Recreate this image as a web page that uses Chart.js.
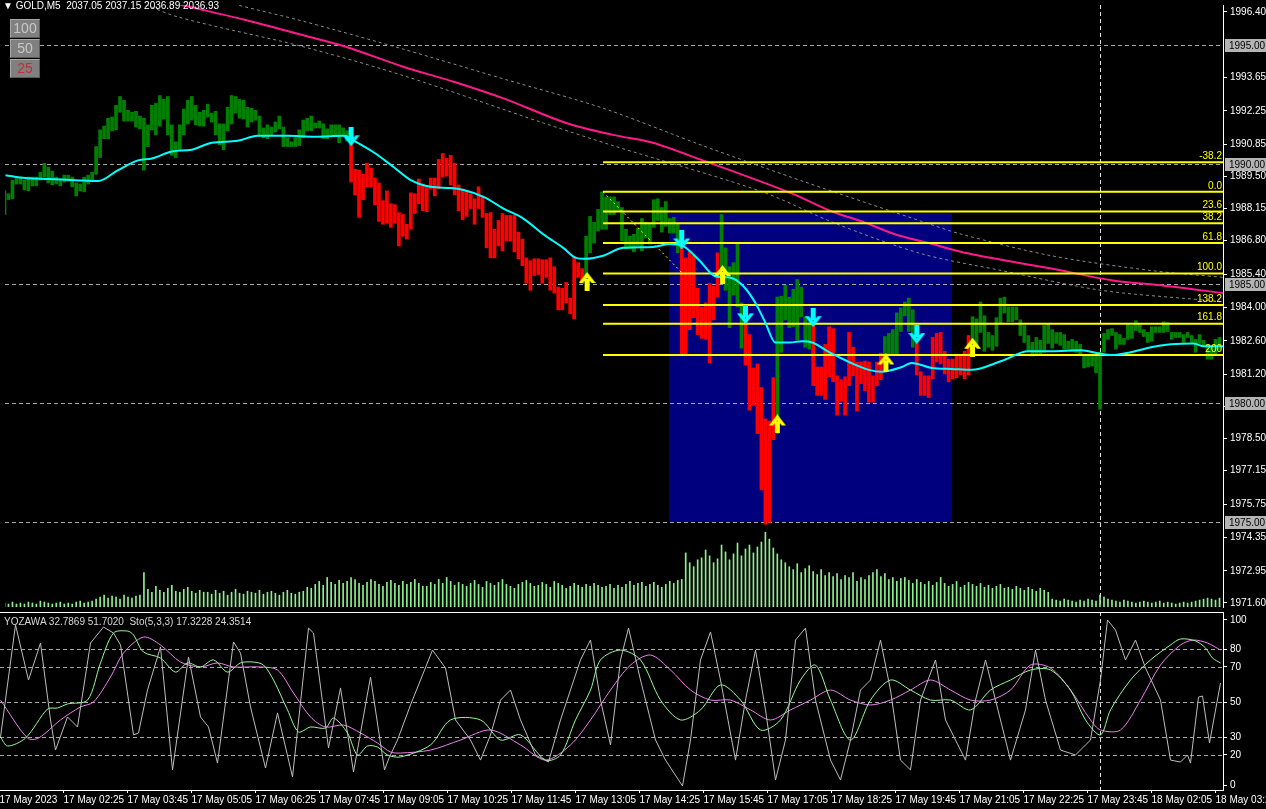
<!DOCTYPE html>
<html>
<head>
<meta charset="utf-8">
<script src="https://cdn.jsdelivr.net/npm/chart.js@4.4.1/dist/chart.umd.min.js"></script>
<style>
  html, body { margin: 0; padding: 0; background: #000; }
  #wrap { position: relative; width: 1266px; height: 809px; overflow: hidden; background: #000; }
  canvas { position: absolute; left: 0; }
  #main { top: 0; }
  #sub { top: 612px; }
  .title { position: absolute; left: 3px; top: 0; color: #fff; font: 10px "Liberation Sans", Arial, sans-serif; white-space: pre; }
  .btn { position: absolute; left: 10px; width: 28px; height: 17px; background: #808080; border: 1px solid #a8a8a8; border-right-color: #5a5a5a; border-bottom-color: #5a5a5a; color: #c8c8c8; font: 14px "Liberation Sans", Arial, sans-serif; text-align: center; line-height: 17px; }
  .sublabel { position: absolute; left: 4px; top: 616px; color: #d8d8d8; font: 10px "Liberation Sans", Arial, sans-serif; white-space: pre; }
</style>
</head>
<body>
<div id="wrap">
  <canvas id="main" width="1266" height="612"></canvas>
  <canvas id="sub" width="1266" height="197"></canvas>
  <div class="title">▼ GOLD,M5  2037.05 2037.15 2036.89 2036.93</div>
  <div class="btn" style="top:19px">100</div>
  <div class="btn" style="top:39px">50</div>
  <div class="btn" style="top:59px;color:#c03030">25</div>
  <div class="sublabel">YOZAWA 32.7869 51.7020  Sto(5,3,3) 17.3228 24.3514</div>
</div>
<script>
// ---- price bars (M5), one entry per bar ----
const highs = [
  1988.89, 1988.77, 1989.34, 1989.47, 1989.47, 1989.34, 1989.47, 1989.47, 1989.47, 1989.67,
  1990.05, 1989.88, 1989.72, 1989.47, 1989.39, 1989.55, 1989.55, 1989.47, 1989.22, 1989.18,
  1989.47, 1989.55, 1989.67, 1990.75, 1991.45, 1991.61, 1991.94, 1991.99, 1992.48, 1992.85,
  1992.69, 1992.27, 1992.19, 1992.23, 1992.03, 1991.94, 1991.66, 1992.48, 1992.56, 1992.89,
  1992.73, 1992.85, 1991.66, 1990.95, 1991.66, 1992.32, 1992.69, 1992.85, 1992.48, 1992.19,
  1992.27, 1992.52, 1992.15, 1992.23, 1991.70, 1991.70, 1992.40, 1992.89, 1992.85, 1992.73,
  1992.69, 1992.40, 1992.36, 1992.27, 1992.03, 1991.53, 1991.66, 1991.57, 1991.78, 1992.03,
  1991.57, 1991.12, 1990.95, 1991.12, 1991.45, 1991.86, 1991.94, 1992.03, 1991.74, 1991.82,
  1991.70, 1991.49, 1991.66, 1991.66, 1991.66, 1991.53, 1991.41, 1990.91, 1989.80, 1989.76,
  1989.59, 1990.05, 1989.84, 1989.43, 1989.22, 1988.48, 1988.89, 1988.35, 1988.31, 1987.98,
  1987.90, 1987.49, 1988.81, 1988.77, 1989.39, 1989.18, 1989.06, 1989.43, 1989.43, 1990.21,
  1990.46, 1990.25, 1990.38, 1990.05, 1989.14, 1988.97, 1988.89, 1988.77, 1988.56, 1989.06,
  1988.68, 1987.94, 1987.98, 1987.28, 1987.65, 1987.94, 1987.86, 1987.86, 1987.86, 1987.16,
  1986.87, 1986.08, 1985.96, 1986.04, 1986.04, 1986.00, 1986.00, 1986.08, 1985.71, 1984.85,
  1984.80, 1985.05, 1984.39, 1986.12, 1985.88, 1985.63, 1986.99, 1987.82, 1987.57, 1988.11,
  1988.85, 1988.64, 1988.64, 1988.64, 1988.44, 1988.19, 1987.28, 1986.99, 1987.07, 1987.32,
  1987.73, 1987.57, 1987.49, 1988.52, 1988.56, 1988.19, 1988.44, 1987.73, 1987.78, 1987.53,
  1986.50, 1986.08, 1986.37, 1986.17, 1984.80, 1984.02, 1984.19, 1985.01, 1984.89, 1986.29,
  1987.90, 1986.50, 1985.71, 1985.88, 1986.66, 1984.19, 1983.48, 1982.86, 1981.46, 1981.63,
  1980.64, 1979.32, 1979.23, 1981.05, 1984.43, 1984.47, 1984.93, 1984.43, 1984.76, 1985.17,
  1984.85, 1983.61, 1983.36, 1983.36, 1981.50, 1981.50, 1982.45, 1983.19, 1983.11, 1981.13,
  1980.97, 1981.09, 1982.95, 1982.33, 1981.71, 1981.71, 1981.75, 1981.71, 1981.13, 1981.71,
  1982.08, 1982.78, 1982.91, 1983.07, 1983.77, 1983.98, 1984.23, 1984.39, 1983.90, 1982.58,
  1981.30, 1981.13, 1981.13, 1982.74, 1982.91, 1982.95, 1982.16, 1981.83, 1981.83, 1981.96,
  1981.96, 1982.16, 1982.82, 1983.61, 1983.52, 1984.23, 1983.65, 1982.95, 1982.82, 1983.57,
  1984.39, 1984.43, 1984.02, 1984.02, 1984.02, 1983.48, 1983.24, 1982.82, 1982.53, 1982.74,
  1982.62, 1983.24, 1983.28, 1983.07, 1982.95, 1982.95, 1982.86, 1982.58, 1982.66, 1982.58,
  1982.45, 1981.96, 1981.96, 1981.96, 1982.00, 1982.12, 1982.91, 1983.07, 1983.11, 1982.95,
  1982.86, 1982.70, 1983.28, 1983.24, 1983.44, 1983.28, 1983.07, 1982.95, 1983.19, 1983.19,
  1983.19, 1983.40, 1983.36, 1982.95, 1982.95, 1982.95, 1982.86, 1982.95, 1982.82, 1982.66,
  1982.86, 1982.62, 1982.45, 1982.37, 1982.66, 1982.74
];
const lows = [
  1987.90, 1988.52, 1988.56, 1989.18, 1989.18, 1988.93, 1988.89, 1989.10, 1989.10, 1989.34,
  1989.47, 1989.22, 1989.14, 1989.18, 1989.10, 1989.26, 1989.30, 1989.06, 1988.68, 1988.89,
  1988.85, 1989.18, 1989.30, 1989.59, 1990.29, 1991.08, 1991.08, 1991.41, 1991.45, 1992.19,
  1991.82, 1991.82, 1991.82, 1991.57, 1991.49, 1989.76, 1990.75, 1991.45, 1991.24, 1991.61,
  1991.90, 1991.24, 1990.38, 1990.29, 1990.58, 1991.24, 1991.70, 1991.86, 1991.66, 1991.61,
  1991.61, 1991.99, 1991.78, 1991.24, 1990.83, 1990.62, 1991.41, 1991.70, 1992.15, 1991.94,
  1991.90, 1991.57, 1991.78, 1991.86, 1991.20, 1991.12, 1991.08, 1991.24, 1991.37, 1991.49,
  1990.75, 1990.75, 1990.75, 1990.75, 1990.79, 1991.12, 1991.41, 1991.41, 1991.53, 1991.53,
  1991.08, 1991.08, 1991.24, 1991.24, 1990.91, 1991.20, 1990.99, 1989.26, 1988.72, 1987.78,
  1988.52, 1989.06, 1989.06, 1988.31, 1987.61, 1987.49, 1987.53, 1987.36, 1987.53, 1986.58,
  1986.99, 1986.87, 1987.28, 1987.94, 1988.35, 1988.06, 1988.02, 1988.97, 1988.68, 1988.97,
  1989.47, 1989.51, 1989.14, 1988.72, 1988.06, 1987.69, 1987.82, 1988.15, 1987.49, 1988.15,
  1987.78, 1986.50, 1986.08, 1986.08, 1986.58, 1986.37, 1986.79, 1986.79, 1986.33, 1986.04,
  1985.75, 1985.01, 1984.72, 1985.34, 1985.38, 1985.01, 1985.26, 1984.72, 1984.60, 1983.90,
  1983.90, 1984.19, 1983.73, 1983.52, 1985.26, 1985.01, 1985.26, 1986.29, 1986.70, 1987.20,
  1987.28, 1987.28, 1987.90, 1987.90, 1988.02, 1986.79, 1986.46, 1986.46, 1986.33, 1986.58,
  1986.37, 1986.91, 1986.66, 1987.36, 1987.65, 1987.16, 1987.40, 1987.12, 1987.12, 1986.29,
  1982.00, 1982.00, 1983.07, 1983.57, 1982.86, 1982.70, 1982.66, 1981.67, 1983.48, 1984.43,
  1985.01, 1984.72, 1983.15, 1984.52, 1984.02, 1982.29, 1981.58, 1979.69, 1979.89, 1978.70,
  1976.34, 1974.90, 1974.98, 1978.45, 1978.70, 1982.12, 1983.48, 1983.15, 1983.19, 1982.62,
  1983.61, 1982.33, 1982.25, 1980.72, 1980.31, 1980.31, 1980.14, 1981.09, 1980.88, 1979.48,
  1980.06, 1979.48, 1980.72, 1981.13, 1979.65, 1980.80, 1980.51, 1980.02, 1980.02, 1980.72,
  1980.97, 1981.83, 1982.00, 1982.00, 1982.00, 1982.99, 1983.65, 1982.99, 1982.33, 1981.17,
  1980.31, 1980.31, 1980.22, 1981.01, 1981.71, 1981.63, 1981.21, 1980.88, 1981.01, 1981.05,
  1981.17, 1981.01, 1981.17, 1981.96, 1982.37, 1982.95, 1982.16, 1982.33, 1982.20, 1982.37,
  1983.36, 1983.77, 1983.40, 1983.40, 1983.48, 1982.82, 1982.53, 1982.16, 1981.96, 1982.00,
  1982.00, 1982.12, 1982.49, 1982.29, 1982.49, 1982.41, 1982.25, 1982.25, 1982.16, 1982.12,
  1982.00, 1981.46, 1981.50, 1981.54, 1981.26, 1979.73, 1982.12, 1982.66, 1982.82, 1982.25,
  1982.45, 1982.45, 1982.66, 1982.70, 1983.03, 1982.95, 1982.78, 1982.53, 1982.58, 1982.95,
  1982.95, 1982.95, 1982.99, 1982.66, 1982.74, 1982.74, 1982.53, 1982.74, 1982.53, 1982.12,
  1982.49, 1982.37, 1981.83, 1981.83, 1982.04, 1982.20
];
// trend colouring of the bars: [number of bars, direction]
const trendRuns = [[87, 'up'], [59, 'down'], [24, 'up'], [10, 'down'], [6, 'up'], [8, 'down'],
  [9, 'up'], [18, 'down'], [8, 'up'], [14, 'down'], [63, 'up']];
// tick volume per bar
const volumes = [
  80, 60, 100, 60, 80, 60, 100, 80, 60, 120, 100, 80, 60, 80, 100, 60, 80, 60, 100, 120, 80, 100, 120,
  160, 200, 240, 180, 220, 200, 160, 240, 200, 180, 220, 240,
  700,
  360, 300, 420, 340, 300, 380, 440, 320, 300, 360, 400, 320, 280, 340, 300,
  300, 260, 340, 280, 320, 240, 300, 360, 280, 260, 320, 300, 280, 340, 260, 300, 320, 280, 240, 300, 340, 280, 260, 300, 320,
  400, 380, 460, 520, 440, 600, 500, 460, 540, 480, 520, 600, 560, 480, 440, 500, 560, 520, 460, 420, 500, 540, 480, 440, 520, 460, 500, 560, 480, 420,
  420, 500, 460, 560, 480, 600, 520, 440, 500, 460, 420, 480, 540, 460, 400, 520, 480, 440, 500, 560, 460, 420, 380, 460, 500, 540, 480, 420, 440, 500, 460, 400, 520, 480, 440, 380, 420, 480, 440, 400, 460, 420, 480, 440, 400,
  420, 460, 380, 440, 400, 460, 520, 440, 480, 500, 420, 460, 500, 440, 400, 460, 520, 480, 540, 560,
  1100, 900, 820, 960, 1000,
  1160, 1040, 900, 980, 1260, 1120, 960, 1080, 1300, 1040, 1180, 1260, 1100, 1220, 1320, 1520, 1380, 1200, 1080, 960,
  900, 820, 760, 880, 700, 780, 840, 720, 660, 760, 640, 700, 620, 680, 560, 640, 600, 700, 520, 600, 560, 640, 700, 760, 620, 680, 560, 600, 520, 580,
  600, 540, 480, 560, 500, 460, 520, 440, 500, 600, 480, 420, 460, 520, 400, 440, 500, 460, 420, 480, 400, 440, 380, 420, 460, 380, 400, 360, 420, 380, 340, 400, 360, 320, 380, 340, 300,
  160, 140, 120, 160, 140, 120, 100, 140, 120, 160, 140, 120, 240, 200, 160, 140, 120, 100, 140, 120, 100, 80, 100, 120, 100, 80, 100, 120, 80, 100, 80, 60, 80, 100, 80, 100, 120, 140, 160, 180, 160, 140, 180
];
const timeLabels = ['17 May 2023', '17 May 02:25', '17 May 03:45', '17 May 05:05', '17 May 06:25',
  '17 May 07:45', '17 May 09:05', '17 May 10:25', '17 May 11:45', '17 May 13:05', '17 May 14:25',
  '17 May 15:45', '17 May 17:05', '17 May 18:25', '17 May 19:45', '17 May 21:05', '17 May 22:25',
  '17 May 23:45', '18 May 02:05', '18 May 03:25'];
const barsPerLabel = 16;
const dayBreak = 275.1;

// fast moving average (cyan)
const fastMaX = [0.25, 5.25, 11, 17.75, 23.5, 28.5, 33.5, 37, 42, 47, 52, 58.5, 63.5, 71, 77.75, 85.25, 87.75,
  92.75, 97.75, 102, 107, 112, 115.25, 120.25, 125.25, 130.25, 135.25, 140.25, 143.5, 146, 150.25, 155.25,
  162.75, 167, 170.25, 174.5, 178.5, 182, 185.25, 188.5, 191, 193.5, 197, 200.25, 202.75, 207, 212, 217,
  220.25, 225.25, 227.75, 232.75, 237.75, 242.75, 250.25, 257, 262.75, 270.25, 274.5, 277.75, 282.75,
  287.75, 292.75, 298.5, 301, 306];
const fastMaY = [1989.55, 1989.43, 1989.39, 1989.34, 1989.30, 1989.76, 1990.17, 1990.25, 1990.54, 1990.62,
  1990.91, 1990.99, 1991.20, 1991.20, 1991.16, 1991.20, 1990.99, 1990.50, 1989.88, 1989.34, 1989.06,
  1989.01, 1988.93, 1988.64, 1988.15, 1987.73, 1987.07, 1986.50, 1986.08, 1986.04, 1986.17, 1986.50,
  1986.54, 1986.66, 1986.58, 1985.96, 1985.30, 1985.26, 1984.93, 1984.19, 1983.36, 1982.53, 1982.53,
  1982.58, 1982.53, 1982.12, 1981.71, 1981.38, 1981.30, 1981.50, 1981.67, 1981.46, 1981.42, 1981.38,
  1981.75, 1982.16, 1982.16, 1982.20, 1982.08, 1982.00, 1982.12, 1982.33, 1982.45, 1982.49, 1982.37,
  1982.37];
// slow moving average (magenta) and its envelope
const slowMaX = [37.75, 44.5, 60.25, 75.25, 85.25, 100.25, 112.75, 125.25, 141, 152.75, 162.75, 175.25,
  190.25, 198.5, 207.75, 215.25, 223.5, 232, 240.25, 250.25, 262.75, 278.25, 290.25, 306];
const slowMaY = [1996.98, 1996.69, 1996.07, 1995.41, 1994.96, 1994.09, 1993.47, 1992.77, 1991.74, 1991.24,
  1990.91, 1990.17, 1989.26, 1988.72, 1988.02, 1987.61, 1987.07, 1986.70, 1986.33, 1986.00, 1985.63,
  1985.13, 1984.93, 1984.60];
const envUpX = [50.25, 58.5, 74.5, 100.25, 125.25, 150.25, 175.25, 201, 230.25, 240.25, 262.75, 287.75, 306];
const envUpY = [1997.06, 1996.69, 1996.03, 1994.83, 1993.59, 1992.36, 1990.79, 1989.26, 1987.61, 1987.07,
  1986.17, 1985.55, 1985.26];
const envLoX = [32.75, 43.5, 74.5, 100.25, 135.25, 152.75, 190.25, 208.5, 230.25, 250.25, 275.25, 301, 306];
const envLoY = [1996.90, 1996.19, 1994.96, 1993.72, 1991.74, 1990.79, 1988.85, 1987.53, 1986.25, 1985.55,
  1984.72, 1984.31, 1984.23];

// signal arrows
const buyX = [146.25, 180.25, 194, 221.25, 243];
const buyY = [1985.09, 1985.38, 1979.11, 1981.67, 1982.33];
const sellX = [87, 170, 186, 203, 229];
const sellY = [1991.16, 1986.83, 1983.69, 1983.57, 1982.86];

// fibonacci retracement
const fibLevels = ['-38.2', '0.0', '23.6', '38.2', '61.8', '100.0', '138.2', '161.8', '200'];
const fibPrices = [1990.09, 1988.85, 1988.02, 1987.53, 1986.70, 1985.42, 1984.10, 1983.32, 1982.00];
const fibStartX = 150.25;
const fibTrendX = [150.25, 170.25];
const fibTrendY = [1988.85, 1985.42];

// rectangle zone
const zoneX = [166.85, 237.9];
const zoneY = [1975.00, 1987.98];

const roundLevels = [1995, 1990, 1985, 1980, 1975];
const priceTicks = [1996.40, 1993.65, 1992.25, 1990.85, 1989.50, 1988.15, 1986.80, 1985.40, 1984.00,
  1982.60, 1981.20, 1979.85, 1978.50, 1977.15, 1975.75, 1974.35, 1972.95, 1971.60];

// sub window: YOZAWA (grey) and Stochastic main/signal
const yozX = [0.25, 4, 7.25, 10.25, 12.75, 14, 17, 19.5, 22.75, 26, 28.5, 30.25, 33.5, 34.75, 37, 40.25, 43.25,
  47.25, 50.25, 52.25, 54.5, 58.5, 60.25, 62.75, 66.5, 69.5, 73.25, 77.25, 78.5, 82.25, 85.25, 88.5, 92.75,
  96.25, 97.5, 99.5, 102.75, 108.25, 111.5, 114, 117.75, 120.25, 122.75, 125.25, 127.75, 130.25, 134,
  137.25, 140.25, 145.25, 147.75, 150.25, 152.75, 155.25, 157.25, 160.25, 164, 166.5, 170.75, 172.75,
  175.25, 177.75, 180.25, 184, 186.5, 189, 191.5, 194, 196.5, 199, 201.5, 204, 207.75, 210.25, 212.75,
  215.25, 217.75, 220.25, 222.75, 225.25, 227.75, 230.25, 234, 236.5, 239, 241.5, 244, 246.5, 249, 252.75,
  256.5, 259, 261.5, 265.25, 269, 272.75, 275.25, 277, 279, 281.5, 284, 286.5, 290.25, 292.75, 295.25,
  297, 297.75, 299.75, 300.75, 302.5, 305.25];
const yozV = [30.1, 93.8, 62.5, 83.5, 39.8, 22.7, 41.5, 35.8, 83.5, 92.6, 89.2, 82.4, 31.3, 32.4, 56.8, 81.3,
  11.4, 75.6, 41.5, 35.8, 15.3, 84.1, 77.8, 47.2, 12.5, 43.8, 7.4, 92.0, 89.2, 23.9, 58.0, 10.2, 64.2, 11.4,
  18.8, 28.4, 48.3, 79.5, 69.3, 39.8, 28.4, 17.0, 31.3, 51.1, 56.8, 39.8, 19.9, 15.9, 39.8, 73.9, 85.2, 51.1,
  25.6, 73.9, 92.0, 62.5, 28.4, 17.0, 2.3, 28.4, 73.9, 89.8, 62.5, 17.0, 51.1, 79.5, 45.5, 5.7, 28.4, 85.2,
  92.0, 51.1, 17.0, 5.7, 28.4, 56.8, 62.5, 85.2, 56.8, 17.0, 11.4, 51.1, 73.9, 39.8, 28.4, 17.0, 51.1, 73.9,
  51.1, 17.0, 45.5, 79.5, 51.1, 22.7, 19.9, 28.4, 62.5, 96.6, 90.9, 73.9, 85.2, 69.3, 51.1, 17.0, 15.9, 19.9,
  15.3, 52.8, 53.4, 26.7, 60.8];
const stoKX = [0.25, 2, 6.5, 12, 14.5, 17, 22, 25.25, 28.5, 32, 33.5, 36, 40.25, 44, 47, 50.25, 53.5, 57, 60.25,
  63.5, 66, 68.5, 72, 74.75, 77.75, 81.5, 83.5, 87, 89.5, 92, 94.5, 97, 100.25, 107.75, 112.75, 120.25,
  125.25, 130.25, 136.5, 140.25, 144, 147.75, 150.25, 155.25, 160.25, 165.25, 170.25, 175.25, 180.25,
  185.25, 190.25, 195.25, 200.25, 204, 207.75, 212.75, 217.75, 222.75, 227.75, 232.75, 237.75, 242.75,
  247.75, 252.75, 257.75, 262.75, 267.75, 271.5, 275.25, 277.75, 282.75, 287.75, 292.75, 295.25, 299,
  301.5, 303.25, 305.25];
const stoKV = [30.1, 25.0, 29.5, 46.0, 46.6, 48.9, 51.1, 72.2, 89.2, 90.3, 88.1, 78.4, 75.0, 67.0, 72.2, 69.9,
  73.9, 67.0, 72.2, 72.7, 71.0, 62.5, 45.5, 33.0, 35.8, 35.2, 40.9, 32.4, 19.9, 25.0, 24.4, 19.9, 18.8, 25.6,
  39.8, 39.8, 28.4, 31.3, 17.0, 19.9, 39.8, 56.8, 73.9, 79.5, 73.9, 51.1, 39.8, 45.5, 59.7, 51.1, 34.1, 39.8,
  62.5, 71.0, 51.1, 28.4, 51.1, 62.5, 56.8, 51.1, 51.1, 45.5, 56.8, 62.5, 68.2, 68.2, 56.8, 39.8, 31.3, 45.5,
  62.5, 73.9, 82.4, 85.8, 84.7, 80.7, 75.0, 72.2];
const stoDX = [0.25, 7, 9.75, 15.25, 20.25, 23.5, 27.75, 31, 36, 40.25, 45.25, 50.25, 54.5, 58.5, 65.25, 69.5,
  73.5, 77.75, 81.5, 86, 90.25, 94.5, 97.75, 100.25, 107.75, 115.25, 122.75, 130.25, 136.5, 142.75, 147.75,
  152.75, 157.75, 162.75, 167.75, 172.75, 177.75, 182.75, 187.75, 192.75, 197.75, 202.75, 207.75, 212.75,
  217.75, 222.75, 227.75, 232.75, 237.75, 242.75, 247.75, 252.75, 257.75, 262.75, 267.75, 272.75, 275.25,
  280.25, 285.25, 290.25, 295.25, 298.5, 302, 305.25];
const stoDV = [51.1, 29.5, 29.5, 39.8, 47.2, 50.0, 64.2, 77.8, 86.9, 82.4, 72.7, 69.9, 72.2, 69.9, 69.9, 68.2,
  55.1, 41.5, 35.8, 36.9, 32.4, 26.7, 21.6, 21.0, 22.7, 28.4, 34.1, 25.6, 17.0, 25.6, 39.8, 56.8, 71.0, 76.7,
  68.2, 56.8, 51.1, 51.1, 45.5, 39.8, 45.5, 51.1, 56.8, 51.1, 48.3, 51.1, 56.8, 62.5, 56.8, 51.1, 51.1, 56.8,
  71.0, 69.3, 56.8, 39.8, 34.1, 34.1, 51.1, 71.0, 82.4, 85.2, 83.5, 79.5];
const stochLevels = [20, 30, 50, 70, 80];
const stochTicks = [2.8, 20, 30, 50, 70, 80, 96.6];
const stochTickLabels = ['0', '20', '30', '50', '70', '80', '100'];

// ---------------------------------------------------------------
const FONT = { family: 'Liberation Sans, Arial, sans-serif', size: 10 };
const X_MIN = 0.125, X_MAX = 305.875;

const barColors = [];
trendRuns.forEach(([n, dir]) => { for (let k = 0; k < n; k++) barColors.push(dir === 'up' ? '#008000' : '#ff0000'); });

const xy = (xs, ys) => xs.map((x, k) => ({ x: x, y: ys[k] }));

function fixRightAxis(s) {
  s.width = 43;
  s.paddingTop = 0; s.paddingBottom = 0;
}

function makeArrow(color, up) {
  const c = document.createElement('canvas');
  c.width = 17; c.height = 19;
  const g = c.getContext('2d');
  if (up) { g.translate(0, 19); g.scale(1, -1); }
  g.fillStyle = color;
  g.fillRect(6, 0, 5, 12);
  g.beginPath();
  g.moveTo(0, 8); g.lineTo(4, 8); g.lineTo(8.5, 13); g.lineTo(13, 8); g.lineTo(17, 8); g.lineTo(8.5, 19);
  g.closePath();
  g.fill();
  return c;
}

const mainDecor = {
  id: 'mainDecor',
  beforeDatasetsDraw(chart) {
    const { ctx, chartArea: a, scales: { x, y } } = chart;
    ctx.save();
    // zone rectangle
    const x0 = x.getPixelForValue(zoneX[0]), x1 = x.getPixelForValue(zoneX[1]);
    const y0 = y.getPixelForValue(zoneY[1]), y1 = y.getPixelForValue(zoneY[0]);
    ctx.fillStyle = '#00007f';
    ctx.fillRect(Math.round(x0), Math.round(y0), Math.round(x1 - x0), Math.round(y1 - y0));
    // round price levels
    ctx.strokeStyle = '#a8a8a8';
    ctx.lineWidth = 1;
    ctx.setLineDash([4, 3]);
    roundLevels.forEach(p => {
      const yy = Math.round(y.getPixelForValue(p)) + 0.5;
      ctx.beginPath(); ctx.moveTo(a.left, yy); ctx.lineTo(a.right, yy); ctx.stroke();
    });
    // day separator
    ctx.strokeStyle = '#e0e0e0';
    const dx = Math.round(x.getPixelForValue(dayBreak)) + 0.5;
    ctx.beginPath(); ctx.moveTo(dx, a.top); ctx.lineTo(dx, a.bottom); ctx.stroke();
    ctx.restore();
  },
  afterDraw(chart) {
    const { ctx, chartArea: a, scales: { y } } = chart;
    ctx.save();
    ctx.font = '10px Liberation Sans, Arial, sans-serif';
    // fib level captions
    ctx.fillStyle = '#ffff00';
    ctx.textAlign = 'right';
    ctx.textBaseline = 'bottom';
    fibLevels.forEach((lv, k) => {
      ctx.fillText(lv, a.right - 1, y.getPixelForValue(fibPrices[k]) - 1);
    });
    // boxed round levels on the price scale
    ctx.textAlign = 'left';
    ctx.textBaseline = 'middle';
    roundLevels.forEach(p => {
      const yy = Math.round(y.getPixelForValue(p));
      ctx.fillStyle = '#b4b4b4';
      ctx.fillRect(a.right + 2, yy - 6, 43, 13);
      ctx.fillStyle = '#000';
      ctx.fillText(p.toFixed(2), a.right + 6, yy + 1);
    });
    ctx.restore();
  }
};

const datasets = [
  { type: 'bar', label: 'Volume', data: volumes.map((v, i) => ({ x: i, y: v })), yAxisID: 'yv',
    backgroundColor: '#8cf08c', barThickness: 1, grouped: false, order: 10 },
  { type: 'line', label: 'Env up', data: xy(envUpX, envUpY), borderColor: '#8a8a8a', borderWidth: 1,
    borderDash: [3, 3], pointRadius: 0, tension: 0.3, order: 9 },
  { type: 'line', label: 'Env low', data: xy(envLoX, envLoY), borderColor: '#8a8a8a', borderWidth: 1,
    borderDash: [3, 3], pointRadius: 0, tension: 0.3, order: 9 },
  { type: 'line', label: 'Slow MA', data: xy(slowMaX, slowMaY), borderColor: '#ff1a8c', borderWidth: 2,
    pointRadius: 0, tension: 0.3, order: 8 },
  { type: 'bar', label: 'Price', data: highs.map((h, i) => ({ x: i, y: [lows[i], h] })),
    backgroundColor: barColors, barThickness: 3, grouped: false, order: 6 },
  { type: 'line', label: 'Fib trend', data: xy(fibTrendX, fibTrendY), borderColor: '#ffff00', borderWidth: 1,
    borderDash: [2, 3], pointRadius: 0, order: 5 },
  { type: 'line', label: 'Fast MA', data: xy(fastMaX, fastMaY), borderColor: '#00ffff', borderWidth: 2,
    pointRadius: 0, tension: 0.35, cubicInterpolationMode: 'monotone', order: 3 },
  { type: 'line', label: 'Buy', data: xy(buyX, buyY), showLine: false, pointStyle: makeArrow('#ffff00', true), order: 1 },
  { type: 'line', label: 'Sell', data: xy(sellX, sellY), showLine: false, pointStyle: makeArrow('#00ffff', false), order: 1 }
];
fibPrices.forEach((p, k) => {
  datasets.push({ type: 'line', label: 'Fib ' + fibLevels[k], data: [{ x: fibStartX, y: p }, { x: X_MAX, y: p }],
    borderColor: '#ffff00', borderWidth: 2, pointRadius: 0, order: 4 });
});

new Chart(document.getElementById('main'), {
  data: { datasets: datasets },
  plugins: [mainDecor],
  options: {
    responsive: false,
    animation: false,
    events: [],
    layout: { padding: 0 },
    plugins: { legend: { display: false }, tooltip: { enabled: false } },
    scales: {
      x: { type: 'linear', min: X_MIN, max: X_MAX, offset: false, display: false },
      y: {
        position: 'right', min: 1971.43, max: 1996.69,
        afterFit: fixRightAxis,
        afterBuildTicks: s => { s.ticks = priceTicks.map(v => ({ value: v })); },
        ticks: { color: '#fff', font: FONT, padding: 3, autoSkip: false, callback: v => Number(v).toFixed(2) },
        grid: { drawOnChartArea: false, color: '#fff', tickLength: 4 },
        border: { color: '#fff' }
      },
      yv: { display: false, min: 0, max: 12240 }
    }
  }
});

const subDecor = {
  id: 'subDecor',
  beforeDatasetsDraw(chart) {
    const { ctx, chartArea: a, scales: { x, y } } = chart;
    ctx.save();
    ctx.lineWidth = 1;
    ctx.setLineDash([4, 3]);
    ctx.strokeStyle = '#a8a8a8';
    stochLevels.forEach(v => {
      const yy = Math.round(y.getPixelForValue(v)) + 0.5;
      ctx.beginPath(); ctx.moveTo(a.left, yy); ctx.lineTo(a.right, yy); ctx.stroke();
    });
    ctx.strokeStyle = '#e0e0e0';
    const dx = Math.round(x.getPixelForValue(dayBreak)) + 0.5;
    ctx.beginPath(); ctx.moveTo(dx, 0); ctx.lineTo(dx, a.bottom); ctx.stroke();
    ctx.restore();
  },
  afterDraw(chart) {
    const { ctx, chartArea: a } = chart;
    ctx.save();
    ctx.fillStyle = '#fff';
    ctx.fillRect(0, 0, a.right + 1, 1);
    ctx.fillRect(a.right, 0, 1, a.top);
    ctx.restore();
  }
};

new Chart(document.getElementById('sub'), {
  data: {
    datasets: [
      { type: 'line', label: 'YOZAWA', data: xy(yozX, yozV), borderColor: '#bdbdbd', borderWidth: 1, pointRadius: 0, tension: 0 },
      { type: 'line', label: 'Sto main', data: xy(stoKX, stoKV), borderColor: '#98fb98', borderWidth: 1, pointRadius: 0, tension: 0.3 },
      { type: 'line', label: 'Sto signal', data: xy(stoDX, stoDV), borderColor: '#ee82ee', borderWidth: 1, pointRadius: 0, tension: 0.3 }
    ]
  },
  plugins: [subDecor],
  options: {
    responsive: false,
    animation: false,
    events: [],
    layout: { padding: { top: 2 } },
    plugins: { legend: { display: false }, tooltip: { enabled: false } },
    scales: {
      x: {
        type: 'linear', min: X_MIN, max: X_MAX, offset: false, position: 'bottom',
        afterFit: s => { s.height = 19; s.paddingLeft = 0; s.paddingRight = 0; },
        afterBuildTicks: s => { s.ticks = timeLabels.map((_, k) => ({ value: k * barsPerLabel })); },
        ticks: { color: '#fff', font: FONT, align: 'start', maxRotation: 0, autoSkip: false, padding: 1,
          callback: (v, k) => timeLabels[k] },
        grid: { drawOnChartArea: false, color: '#fff', tickLength: 3 },
        border: { color: '#fff' }
      },
      y: {
        position: 'right', min: 0, max: 100,
        afterFit: fixRightAxis,
        afterBuildTicks: s => { s.ticks = stochTicks.map(v => ({ value: v })); },
        ticks: { color: '#fff', font: FONT, padding: 3, autoSkip: false, callback: (v, k) => stochTickLabels[k] },
        grid: { drawOnChartArea: false, color: '#fff', tickLength: 4 },
        border: { color: '#fff' }
      }
    }
  }
});
</script>
</body>
</html>
